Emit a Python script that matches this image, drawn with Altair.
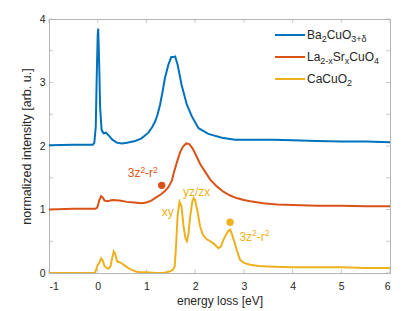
import altair as alt
import pandas as pd

# ---- data ----
series_names = ["Ba2CuO3+δ", "La2-xSrxCuO4", "CaCuO2"]
series_colors = ["#0072BD", "#D95319", "#EDB120"]
# legend label runs: (text, kind) with kind "n" normal, "b" subscript
legend_runs = [
    [("Ba", "n"), ("2", "b"), ("CuO", "n"), ("3+δ", "b")],
    [("La", "n"), ("2-x", "b"), ("Sr", "n"), ("x", "b"), ("CuO", "n"), ("4", "b")],
    [("CaCuO", "n"), ("2", "b")],
]

ba_x = [-1.0, -0.5, -0.1, -0.07, -0.04, -0.02, 0.0, 0.01, 0.03, 0.05, 0.08, 0.12, 0.17, 0.22,
        0.3, 0.4, 0.5, 0.6, 0.77, 0.9, 1.04, 1.12, 1.18, 1.23, 1.28, 1.33, 1.38, 1.45, 1.51,
        1.55, 1.59, 1.64, 1.72, 1.83, 1.93, 2.07, 2.27, 2.55, 2.82, 3.2, 3.6, 4.0, 4.5, 5.0,
        5.5, 6.0]
ba_y = [2.01, 2.02, 2.02, 2.05, 2.3, 3.1, 3.75, 3.85, 3.3, 2.6, 2.25, 2.2, 2.21, 2.17,
        2.1, 2.05, 2.04, 2.05, 2.08, 2.12, 2.21, 2.3, 2.39, 2.5, 2.65, 2.85, 3.07, 3.28, 3.40,
        3.40, 3.41, 3.28, 2.97, 2.65, 2.47, 2.28, 2.19, 2.13, 2.10, 2.10, 2.10, 2.09, 2.08, 2.07,
        2.07, 2.06]

la_x = [-1.0, -0.5, -0.05, -0.01, 0.03, 0.07, 0.1, 0.14, 0.2, 0.3, 0.45, 0.6, 0.75, 0.9, 1.0,
        1.1, 1.2, 1.3, 1.38, 1.45, 1.52, 1.57, 1.62, 1.69, 1.75, 1.82, 1.88, 1.95, 2.02, 2.1,
        2.2, 2.31, 2.45, 2.58, 2.72, 2.85, 3.0, 3.13, 3.4, 3.68, 4.0, 4.5, 5.0, 5.5, 6.0]
la_y = [1.0, 1.01, 1.01, 1.03, 1.14, 1.21, 1.19, 1.14, 1.13, 1.15, 1.14, 1.12, 1.11, 1.10, 1.11,
        1.14, 1.19, 1.24, 1.29, 1.35, 1.45, 1.6, 1.73, 1.9, 1.99, 2.04, 2.03, 1.96, 1.85, 1.72,
        1.6, 1.47, 1.36, 1.28, 1.22, 1.18, 1.15, 1.13, 1.10, 1.08, 1.07, 1.06, 1.06, 1.05, 1.05]

ca_x = [-1.0, -0.5, -0.06, -0.02, 0.0, 0.03, 0.07, 0.1, 0.14, 0.18, 0.22, 0.26, 0.3, 0.33,
        0.36, 0.4, 0.45, 0.5, 0.55, 0.62, 0.7, 0.8, 0.9, 1.0, 1.2, 1.35, 1.45, 1.5, 1.54, 1.58,
        1.61, 1.64, 1.68, 1.72, 1.76, 1.8, 1.83, 1.86, 1.9, 1.94, 1.97, 2.0, 2.04, 2.1, 2.16,
        2.24, 2.37, 2.48, 2.53, 2.58, 2.63, 2.68, 2.72, 2.76, 2.81, 2.86, 2.92, 3.0, 3.13, 3.3,
        3.6, 4.0, 4.5, 5.0, 5.5, 6.0]
ca_y = [0.0, 0.0, 0.0, 0.08, 0.13, 0.15, 0.23, 0.2, 0.11, 0.08, 0.07, 0.1, 0.25, 0.34,
        0.3, 0.18, 0.17, 0.15, 0.12, 0.08, 0.05, 0.02, 0.01, 0.01, 0.0, 0.0, 0.02, 0.03, 0.05, 0.1,
        0.45, 0.9, 1.12, 1.05, 0.75, 0.55, 0.5, 0.6, 0.9, 1.12, 1.18, 1.15, 1.0, 0.74, 0.6,
        0.53, 0.47, 0.39, 0.42, 0.52, 0.6, 0.66, 0.68, 0.6, 0.48, 0.35, 0.21, 0.16, 0.13, 0.11,
        0.1, 0.09, 0.09, 0.09, 0.08, 0.08]

# annotations: runs with kind "n" normal / "p" superscript
orb_runs = [("3z", "n"), ("2", "p"), ("-r", "n"), ("2", "p")]
ann_simple_text = ["xy", "yz/zx"]
ann_simple_x = [1.437, 2.03]
ann_simple_y = [0.894, 1.22]
orb_x = [0.616, 2.908]
orb_y = [1.51, 0.51]
orb_color = ["#D95319", "#EDB120"]

dot_x = [1.314, 2.717]
dot_y = [1.38, 0.80]
dot_color = ["#D95319", "#EDB120"]

x_ticks = [-1, 0, 1, 2, 3, 4, 5, 6]
y_ticks = [0, 0.5, 1, 1.5, 2, 2.5, 3, 3.5, 4]

W, H = 341, 254
FONT = "Liberation Sans"
TXT = "#262626"
BOX = "#b4b4b4"

# Arial / Liberation Sans advance widths (per 1000 em)
CW = {"0": 556, "1": 556, "2": 556, "3": 556, "4": 556, "B": 667, "a": 556, "C": 722,
      "u": 556, "O": 778, "L": 556, "S": 667, "r": 333, "x": 500, "+": 584, "-": 333,
      "δ": 556, "z": 500, "y": 500}


def run_width(t, fs):
    return sum(CW.get(c, 556) for c in t) * fs / 1000.0


def layout_runs(runs, fs_main, fs_small, sub_dy, sup_dy):
    out, cur = [], 0.0
    for t, k in runs:
        fs = fs_main if k == "n" else fs_small
        dy = 0 if k == "n" else (sub_dy if k == "b" else sup_dy)
        out.append((t, fs, cur, dy))
        cur += run_width(t, fs)
    return out


rows = []
for name, xs, ys in zip(series_names, [ba_x, la_x, ca_x], [ba_y, la_y, ca_y]):
    for i, (a, b) in enumerate(zip(xs, ys)):
        rows.append({"series": name, "e": a, "I": b, "i": i})
lines_df = pd.DataFrame(rows)

xscale = alt.Scale(domain=[-1, 6], nice=False, zero=False)
yscale = alt.Scale(domain=[0, 4], nice=False, zero=False)

lines = alt.Chart(lines_df).mark_line(strokeWidth=2, clip=True).encode(
    x=alt.X("e:Q", scale=xscale,
            axis=alt.Axis(title="energy loss [eV]", values=x_ticks,
                          labelExpr="'' + datum.value")),
    y=alt.Y("I:Q", scale=yscale,
            axis=alt.Axis(title="normalized intensity [arb. u.]", values=y_ticks,
                          labelExpr="'' + datum.value")),
    color=alt.Color("series:N",
                    scale=alt.Scale(domain=series_names, range=series_colors),
                    legend=None),
    order="i:Q",
    detail="series:N",
)

layers = []

# inward ticks on all four sides
xt_df = pd.DataFrame({"v": x_ticks})
yt_df = pd.DataFrame({"v": y_ticks})
for yv in [H - 2, 2]:
    layers.append(alt.Chart(xt_df).mark_tick(orient="vertical", size=4, thickness=1, color=BOX)
                  .encode(x=alt.X("v:Q", scale=xscale), y=alt.value(yv)))
for xv in [2, W - 2]:
    layers.append(alt.Chart(yt_df).mark_tick(orient="horizontal", size=4, thickness=1, color=BOX)
                  .encode(y=alt.Y("v:Q", scale=yscale), x=alt.value(xv)))

layers.append(lines)

# annotation dots
dots_df = pd.DataFrame({"x": dot_x, "y": dot_y, "c": dot_color})
layers.append(alt.Chart(dots_df).mark_circle(size=55, opacity=1).encode(
    x=alt.X("x:Q", scale=xscale), y=alt.Y("y:Q", scale=yscale),
    color=alt.Color("c:N", scale=None)))

# simple annotations
simple_df = pd.DataFrame({"t": ann_simple_text, "x": ann_simple_x, "y": ann_simple_y})
layers.append(alt.Chart(simple_df).mark_text(
    align="center", baseline="alphabetic", font=FONT, fontSize=12, color="#EDB120"
).encode(x=alt.X("x:Q", scale=xscale), y=alt.Y("y:Q", scale=yscale), text="t:N"))

# 3z^2-r^2 annotations with real superscripts
for ox, oy, oc in zip(orb_x, orb_y, orb_color):
    pdf = pd.DataFrame({"x": [ox], "y": [oy]})
    for t, fs, dx, dy in layout_runs(orb_runs, 12, 8.5, 0, -4.5):
        layers.append(alt.Chart(pdf).mark_text(
            align="left", baseline="alphabetic", font=FONT, fontSize=fs,
            dx=dx, dy=dy, color=oc, text=t
        ).encode(x=alt.X("x:Q", scale=xscale), y=alt.Y("y:Q", scale=yscale)))

# legend (drawn in the plot's corner)
one = pd.DataFrame({"k": [0]})
for r, (runs, col) in enumerate(zip(legend_runs, series_colors)):
    yc = 16 + 22 * r
    layers.append(alt.Chart(one).mark_rule(color=col, strokeWidth=2).encode(
        x=alt.value(226), x2=alt.value(256), y=alt.value(yc)))
    for t, fs, dx, dy in layout_runs(runs, 12, 9, 3, 0):
        layers.append(alt.Chart(one).mark_text(
            align="left", baseline="alphabetic", font=FONT, fontSize=fs,
            dx=dx, dy=dy, color=TXT, text=t
        ).encode(x=alt.value(258), y=alt.value(yc + 4)))

chart = alt.layer(*layers).properties(
    width=W, height=H,
    autosize=alt.AutoSizeParams(type="none"),
    padding={"left": 41, "top": 11, "right": 17, "bottom": 38},
).configure_view(
    stroke=BOX, strokeWidth=1
).configure_axis(
    domain=False, ticks=False, grid=False,
    labelFont=FONT, labelFontSize=10.5, labelColor=TXT, labelPadding=4,
    titleFont=FONT, titleFontSize=12, titleFontWeight="normal", titleColor=TXT,
).configure_axisX(
    labelPadding=8, titlePadding=4
).configure_axisY(
    titlePadding=6, titleFontSize=12.5
)

chart.save("out.html", embed_options={"renderer": "svg", "actions": False})
